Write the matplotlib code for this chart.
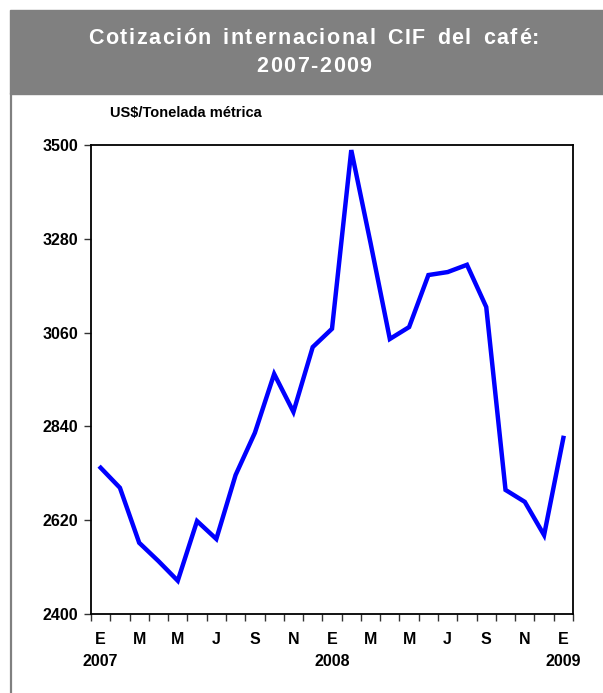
import matplotlib.pyplot as plt
from matplotlib.patches import Rectangle
from matplotlib.lines import Line2D

# Monthly CIF coffee price, Jan 2007 - Jan 2009 (US$/t)
months = ["E", "F", "M", "A", "M", "J", "J", "A", "S", "O", "N", "D"] * 2 + ["E"]
prices = [2743, 2696, 2567, 2524, 2478, 2618, 2576, 2726, 2825, 2963, 2874, 3026,
          3069, 3488, 3270, 3045, 3073, 3195, 3202, 3219, 3120, 2691, 2663, 2585, 2813]
years = ["2007", "2008", "2009"]
year_pos = [0, 12, 24]
yticks = [2400, 2620, 2840, 3060, 3280, 3500]
title_lines = ["Cotización internacional CIF del café:", "2007-2009"]

plt.rcParams["font.family"] = ["Liberation Sans", "DejaVu Sans"]

W, H = 603, 693
fig = plt.figure(figsize=(W / 100, H / 100), dpi=100)
renderer = fig.canvas.get_renderer()


def spaced_text(s, xc, yc, size, track, word_gap=0):
    # draw s centred at (xc, yc) in pixels with extra letter spacing (px)
    def width(t):
        a = fig.text(0, 0, t + "|", fontsize=size, fontweight="bold")
        b = fig.text(0, 0, "|", fontsize=size, fontweight="bold")
        w = a.get_window_extent(renderer).width - b.get_window_extent(renderer).width
        a.remove()
        b.remove()
        return w
    total = width(s) + track * (len(s) - 1) + word_gap * s.count(" ")
    x0 = xc - total / 2
    for i, ch in enumerate(s):
        if ch == " ":
            continue
        xp = x0 + width(s[:i]) + track * i + word_gap * s[:i].count(" ")
        fig.text(xp / W, 1 - yc / H, ch, ha="left", va="center", color="white",
                 fontsize=size, fontweight="bold")


# title banner and left frame line
fig.patches.append(Rectangle((10 / W, 1 - 94 / H), 593 / W, 84 / H,
                             transform=fig.transFigure, color="#808080", zorder=0))
fig.lines.append(Line2D([11 / W, 11 / W], [0, 1 - 94 / H], transform=fig.transFigure,
                        color="#808080", lw=1.6))
spaced_text(title_lines[0], 314, 38, 15.5, 1.5, 3)
spaced_text(title_lines[1], 314, 66, 15.5, 1.5, 3)
fig.text(110 / W, 1 - 113 / H, "US$/Tonelada métrica", ha="left", va="center",
         fontsize=10.5, fontweight="bold")

ax = fig.add_axes([91 / W, 1 - 614 / H, 482 / W, 469 / H])
x = list(range(len(prices)))
ax.plot(x, prices, color="#0000FF", lw=3.2, solid_joinstyle="miter")

ax.set_xlim(-0.5, len(prices) - 0.5)
ax.set_ylim(2400, 3500)
ax.set_yticks(yticks)
ax.set_yticklabels([str(v) for v in yticks], fontsize=11.5, fontweight="bold")
ax.set_xticks([i - 0.5 for i in range(len(prices) + 1)])
ax.set_xticklabels([])
ax.tick_params(axis="both", direction="out", length=5, width=1, color="#333333")
ax.tick_params(axis="y", pad=4)
for i in range(0, len(prices), 2):
    ax.text(i, -25 / 469, months[i], transform=ax.get_xaxis_transform(), ha="center",
            va="center", fontsize=11.5, fontweight="bold")
for yr, p in zip(years, year_pos):
    ax.text(p, -48 / 469, yr, transform=ax.get_xaxis_transform(), ha="center",
            va="center", fontsize=11.5, fontweight="bold")
for s in ax.spines.values():
    s.set_linewidth(1.3)

fig.savefig("out.png", dpi=100)
